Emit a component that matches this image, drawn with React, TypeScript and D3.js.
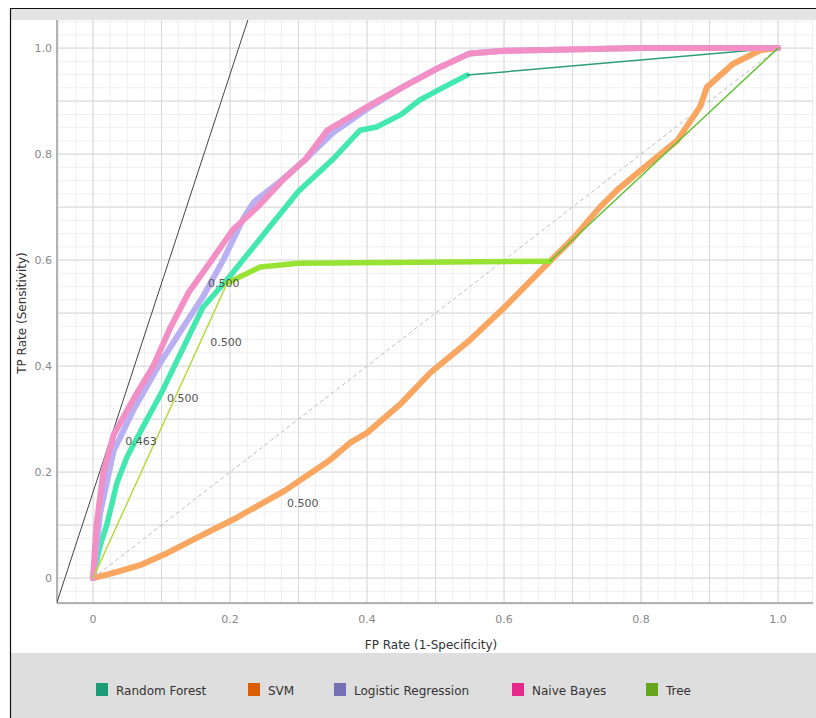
import React, { useEffect, useRef } from 'react';
import * as d3 from 'd3';

type Pt = [number, number];

// ROC curves as [fp rate, tp rate]
const seriesNames = ['Random Forest', 'SVM', 'Logistic Regression', 'Naive Bayes', 'Tree'];
const legendColors = ['#1b9e77', '#d95f02', '#7570b3', '#e7298a', '#66a61e'];

const rfCurve: Pt[] = [
  [0, 0], [0.01, 0.06], [0.02, 0.1], [0.035, 0.18], [0.05, 0.23], [0.079, 0.3], [0.1, 0.35],
  [0.13, 0.43], [0.16, 0.51], [0.2, 0.57], [0.25, 0.65], [0.3, 0.73], [0.35, 0.79],
  [0.39, 0.845], [0.414, 0.851], [0.45, 0.875], [0.477, 0.902], [0.51, 0.925], [0.546, 0.949],
];
const rfHull: Pt[] = [[0.546, 0.949], [1, 1]];

const svmCurve: Pt[] = [
  [0, 0], [0.03, 0.01], [0.07, 0.025], [0.108, 0.047], [0.15, 0.075], [0.204, 0.11],
  [0.229, 0.128], [0.28, 0.165], [0.346, 0.223], [0.375, 0.255], [0.4, 0.274], [0.45, 0.33],
  [0.492, 0.387], [0.55, 0.449], [0.6, 0.51], [0.657, 0.585], [0.7, 0.64], [0.74, 0.7],
  [0.765, 0.732], [0.8, 0.77], [0.853, 0.826], [0.886, 0.889], [0.896, 0.926], [0.934, 0.97],
  [0.974, 0.996], [1, 1],
];

const lrCurve: Pt[] = [
  [0, 0], [0.01, 0.12], [0.03, 0.24], [0.06, 0.32], [0.1, 0.41], [0.13, 0.47], [0.16, 0.53],
  [0.19, 0.6], [0.22, 0.68], [0.235, 0.71], [0.27, 0.745], [0.31, 0.79], [0.35, 0.84],
  [0.4, 0.885], [0.45, 0.925], [0.5, 0.96], [0.55, 0.99], [0.6, 0.995], [0.8, 1], [1, 1],
];

const nbCurve: Pt[] = [
  [0, 0], [0.005, 0.1], [0.015, 0.2], [0.03, 0.27], [0.06, 0.34], [0.088, 0.4], [0.112, 0.47],
  [0.14, 0.54], [0.17, 0.594], [0.204, 0.657], [0.24, 0.7], [0.277, 0.751], [0.31, 0.79],
  [0.342, 0.845], [0.4, 0.889], [0.45, 0.925], [0.5, 0.96], [0.55, 0.99], [0.6, 0.995],
  [0.8, 1], [1, 1],
];

const treeCurve: Pt[] = [[0.196, 0.557], [0.244, 0.587], [0.3, 0.594], [0.667, 0.598]];
const treeHullLow: Pt[] = [[0, 0], [0.196, 0.557]];
const treeHullHigh: Pt[] = [[0.667, 0.598], [1, 1]];

const diagonal: Pt[] = [[0, 0], [1, 1]];
const isoLine: Pt[] = [[-0.053, -0.047], [0.226, 1.053]];

// threshold annotations
const thresholdLabels: { text: string; x: number; y: number }[] = [
  { text: '0.500', x: 0.168, y: 0.557 },
  { text: '0.500', x: 0.171, y: 0.445 },
  { text: '0.500', x: 0.108, y: 0.34 },
  { text: '0.463', x: 0.047, y: 0.259 },
  { text: '0.500', x: 0.283, y: 0.142 },
];

const xTicks = [0, 0.2, 0.4, 0.6, 0.8, 1.0];
const yTicks = [0, 0.2, 0.4, 0.6, 0.8, 1.0];

const W = 816;
const H = 718;

const App = () => {
  const svgRef = useRef<SVGSVGElement>(null);

  useEffect(() => {
    const svg = d3.select(svgRef.current);
    svg.selectAll('*').remove();

    const left = 57, right = 813, top = 20, bottom = 603;
    const x = d3.scaleLinear().domain([-0.0526, 1.051]).range([left, right]);
    const y = d3.scaleLinear().domain([-0.047, 1.053]).range([bottom, top]);

    // frame
    svg.append('rect').attr('x', 0).attr('y', 0).attr('width', W).attr('height', H).attr('fill', '#fff');
    svg.append('rect').attr('x', 10).attr('y', 8).attr('width', W - 10).attr('height', 12).attr('fill', '#e4e4e4');
    svg.append('rect').attr('x', 10).attr('y', 653).attr('width', W - 10).attr('height', H - 653).attr('fill', '#dedede');
    svg.append('line').attr('x1', 10.5).attr('x2', 10.5).attr('y1', 8).attr('y2', H).attr('stroke', '#111').attr('stroke-width', 1.2);
    svg.append('line').attr('x1', 10).attr('x2', W).attr('y1', 8.5).attr('y2', 8.5).attr('stroke', '#111').attr('stroke-width', 1.2);

    svg.append('clipPath').attr('id', 'plotclip')
      .append('rect').attr('x', left).attr('y', top).attr('width', right - left).attr('height', bottom - top);

    const g = svg.append('g');

    // grid: fine and major
    const minor = d3.range(-0.05, 1.06, 0.025);
    const major = d3.range(0, 1.01, 0.1);
    g.selectAll('.vmin').data(minor).enter().append('line')
      .attr('x1', d => x(d)).attr('x2', d => x(d)).attr('y1', top).attr('y2', bottom)
      .attr('stroke', '#efefef').attr('stroke-width', 1);
    g.selectAll('.hmin').data(minor).enter().append('line')
      .attr('y1', d => y(d)).attr('y2', d => y(d)).attr('x1', left).attr('x2', right)
      .attr('stroke', '#efefef').attr('stroke-width', 1);
    g.selectAll('.vmaj').data(major).enter().append('line')
      .attr('x1', d => x(d)).attr('x2', d => x(d)).attr('y1', top).attr('y2', bottom)
      .attr('stroke', '#d8d8d8').attr('stroke-width', 1);
    g.selectAll('.hmaj').data(major).enter().append('line')
      .attr('y1', d => y(d)).attr('y2', d => y(d)).attr('x1', left).attr('x2', right)
      .attr('stroke', '#d8d8d8').attr('stroke-width', 1);

    // axes
    g.append('line').attr('x1', left).attr('x2', left).attr('y1', top).attr('y2', bottom)
      .attr('stroke', '#9a9a9a').attr('stroke-width', 1.5);
    g.append('line').attr('x1', left).attr('x2', right).attr('y1', bottom).attr('y2', bottom)
      .attr('stroke', '#9a9a9a').attr('stroke-width', 1.5);

    const fmt = (d: number) => (d === 0 ? '0' : d.toFixed(1));
    g.selectAll('.xt').data(xTicks).enter().append('text')
      .attr('x', d => x(d)).attr('y', bottom + 20).attr('text-anchor', 'middle')
      .attr('font-family', 'DejaVu Sans, sans-serif').attr('font-size', 11).attr('fill', '#888')
      .text(fmt);
    g.selectAll('.yt').data(yTicks).enter().append('text')
      .attr('x', left - 5).attr('y', d => y(d) + 4).attr('text-anchor', 'end')
      .attr('font-family', 'DejaVu Sans, sans-serif').attr('font-size', 11).attr('fill', '#888')
      .text(fmt);

    g.append('text').attr('x', 431).attr('y', 649).attr('text-anchor', 'middle')
      .attr('font-family', 'DejaVu Sans, sans-serif').attr('font-size', 12).attr('fill', '#333')
      .text('FP Rate (1-Specificity)');
    g.append('text').attr('transform', 'translate(26,313) rotate(-90)').attr('text-anchor', 'middle')
      .attr('font-family', 'DejaVu Sans, sans-serif').attr('font-size', 12).attr('fill', '#333')
      .text('TP Rate (Sensitivity)');

    const line = d3.line<Pt>().x(d => x(d[0])).y(d => y(d[1]));
    const plot = g.append('g').attr('clip-path', 'url(#plotclip)');

    plot.append('path').attr('d', line(diagonal)).attr('fill', 'none')
      .attr('stroke', '#bdbdbd').attr('stroke-width', 1).attr('stroke-dasharray', '4,3');
    plot.append('path').attr('d', line(isoLine)).attr('fill', 'none')
      .attr('stroke', '#444').attr('stroke-width', 1);

    const thick = (pts: Pt[], color: string, w: number) =>
      plot.append('path').attr('d', line(pts)).attr('fill', 'none').attr('stroke', color)
        .attr('stroke-width', w).attr('stroke-linejoin', 'round').attr('stroke-linecap', 'round');

    // Random Forest
    thick(rfCurve, '#43e8b0', 5.5);
    thick(rfHull, '#2e9e78', 1.5);
    // SVM
    thick(svmCurve, '#f8a660', 6);
    // Logistic Regression
    thick(lrCurve, '#b8b0f2', 6);
    // Naive Bayes
    thick(nbCurve, '#f290c6', 6);
    // Tree
    thick(treeHullLow, '#b6dc3c', 1.5);
    thick(treeCurve, '#98e234', 5.5);
    thick(treeHullHigh, '#62c234', 1.5);

    plot.selectAll('.thr').data(thresholdLabels).enter().append('text')
      .attr('x', d => x(d.x)).attr('y', d => y(d.y) + 4)
      .attr('font-family', 'DejaVu Sans, sans-serif').attr('font-size', 11).attr('fill', '#555')
      .text(d => d.text);

    // legend, laid out left to right
    const legendX = [96, 248, 334, 512, 646];
    const leg = svg.append('g').attr('transform', 'translate(0,690)');
    seriesNames.forEach((name, i) => {
      leg.append('rect').attr('x', legendX[i]).attr('y', -7).attr('width', 12).attr('height', 13)
        .attr('fill', legendColors[i]);
      leg.append('text').attr('x', legendX[i] + 20).attr('y', 5)
        .attr('font-family', 'DejaVu Sans, sans-serif').attr('font-size', 12)
        .attr('fill', '#333').text(name);
    });
  }, []);

  return (
    <svg ref={svgRef} width={W} height={H}
      style={{ position: 'absolute', left: 0, top: 0, display: 'block' }} />
  );
};

export default App;
